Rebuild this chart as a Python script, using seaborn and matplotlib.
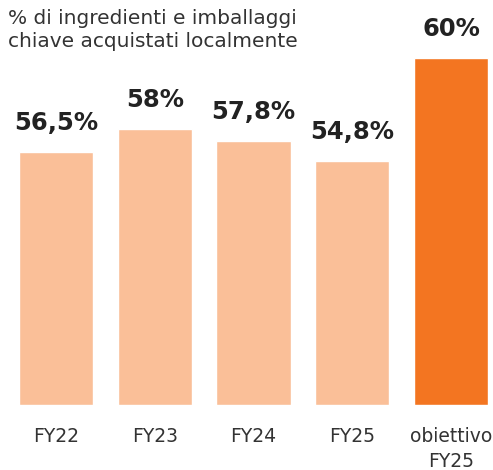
import numpy as np
import pandas as pd
import seaborn as sns
from matplotlib import pyplot as plt

# data
categories = ["FY22", "FY23", "FY24", "FY25", "obiettivo\nFY25"]
value_labels = ["56,5%", "58%", "57,8%", "54,8%", "60%"]
# drawn bar heights (the original chart is not to scale), relative to the target bar = 60
drawn_heights = [43.7, 47.7, 45.6, 42.2, 60.0]
bar_colors = ["#FABF98", "#FABF98", "#FABF98", "#FABF98", "#F37521"]

df = pd.DataFrame({"cat": categories, "h": drawn_heights})

sns.set_style("white")
plt.rcParams["font.family"] = ["DejaVu Sans"]

fig = plt.figure(figsize=(4.93, 4.70), dpi=100)
# bars: bottom at 405px, target bar top at 58px
ax = fig.add_axes([0, 65 / 470, 1, (405 - 58) / 470])

sns.barplot(data=df, x="cat", y="h", hue="cat", palette=bar_colors,
            legend=False, width=0.75, saturation=1, ax=ax)

ax.set_xlim(-0.567, 4.425)
ax.set_ylim(0, 60)
ax.axis("off")

for i, (h, lab) in enumerate(zip(drawn_heights, value_labels)):
    ax.annotate(lab, (i, h), xytext=(0, 17), textcoords="offset pixels",
                ha="center", va="bottom", fontsize=17.5, fontweight="bold",
                color="#222222")

for i, c in enumerate(categories):
    ax.annotate(c, (i, 0), xytext=(0, -22), textcoords="offset pixels",
                ha="center", va="top", fontsize=13.5, color="#333333",
                linespacing=1.4, annotation_clip=False)

fig.text(8 / 493, 1 - 9 / 470, "% di ingredienti e imballaggi\nchiave acquistati localmente",
         ha="left", va="top", fontsize=14.5, color="#333333", linespacing=1.25)

fig.savefig("out.png", dpi=100)
